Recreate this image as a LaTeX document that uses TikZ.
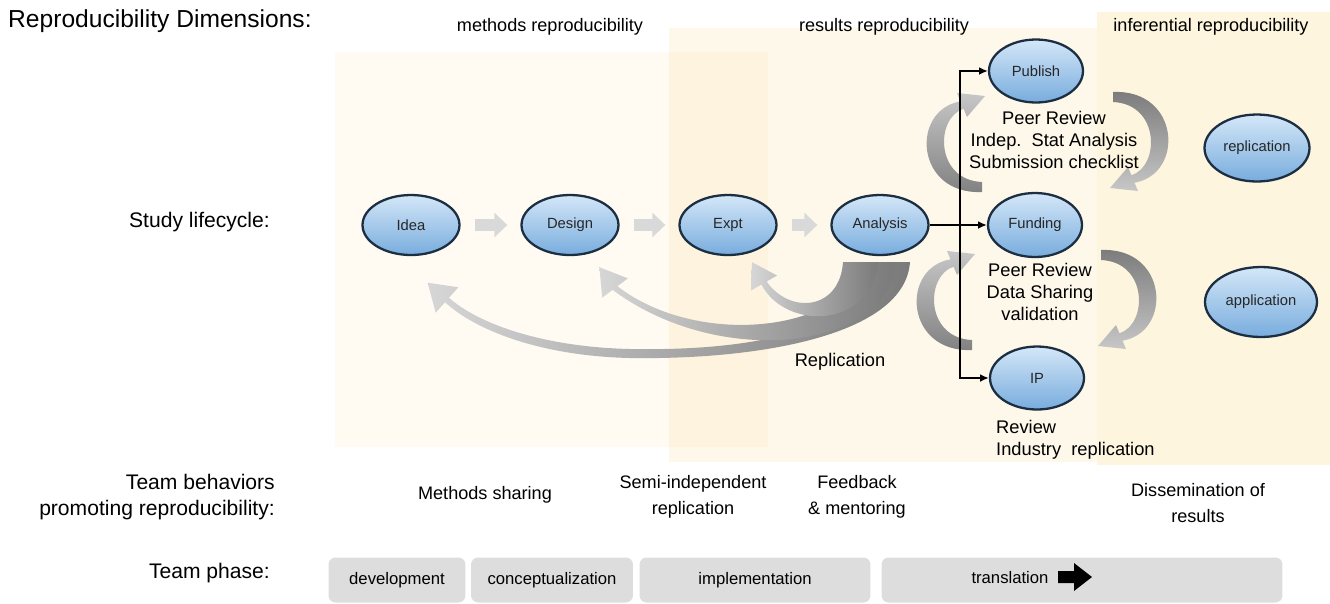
\documentclass[tikz,border=0pt]{standalone}
\usepackage{fontspec}
\setmainfont{Liberation Sans}
\usetikzlibrary{arrows.meta}
\usetikzlibrary{shapes.geometric}
\usetikzlibrary{calc}
\definecolor{ballhi}{HTML}{D4E7F8}
\definecolor{balllo}{HTML}{78ACDD}
\definecolor{rim}{HTML}{1C2E42}
\definecolor{creamA}{HTML}{FFFBF2}
\definecolor{creamB}{HTML}{FEF8EB}
\definecolor{creamAB}{HTML}{FDF3DE}
\definecolor{creamC}{HTML}{FDF5DE}
\definecolor{phasegray}{HTML}{DEDDDD}
\tikzset{big/.style={font=\fontsize{14}{16}\selectfont}}
\tikzset{lab/.style={font=\fontsize{12}{14.7}\selectfont, align=right}}
\tikzset{dim/.style={font=\fontsize{10.3}{12}\selectfont}}
\tikzset{beh/.style={font=\fontsize{10.3}{14.7}\selectfont, align=center}}
\tikzset{txt/.style={font=\fontsize{10.4}{12.3}\selectfont, align=center}}
\tikzset{stage/.style={ellipse, draw=rim, line width=1.3pt, top color=ballhi, bottom color=balllo,
  minimum width=1.94cm, minimum height=1.2cm, inner sep=0pt, text=black!85,
  font=\fontsize{8.4}{10}\selectfont}}
\tikzset{phase/.style={rounded corners=4pt, fill=phasegray, minimum height=0.9cm, inner sep=0pt,
  font=\fontsize{9.5}{11}\selectfont}}
\tikzset{flow/.style={draw=black!15, line width=6.8pt, -{Triangle[length=7.4pt,width=13.6pt]},
  shorten <=7.9pt, shorten >=7.4pt}}
\tikzset{branch/.style={draw=black, line width=1.1pt, -{Latex[length=5pt,width=4.5pt]}}}
\tikzset{swoosh/.style={left color=black!16, right color=black!52}}
\tikzset{turnup/.style={top color=black!22, bottom color=black!50}}
\tikzset{turndown/.style={top color=black!52, bottom color=black!22}}
% tapered turning arrow, #1 centre, #2 rotation, #3 shading
\newcommand{\turnarrow}[3]{\shade[#3, shift={#1}, rotate=#2] (7,50) .. controls (-60,53) and (-65,-32) .. (-14.5,-40.7)
  -- (-18,-49) -- (10,-46) -- (-8,-25) -- (-11.5,-33.3) .. controls (-40,-24) and (-40,38) .. (7,40) -- cycle;}

\begin{document}
\begin{tikzpicture}[x=0.02cm,y=-0.02cm]
  \useasboundingbox (0,0) rectangle (1330,603);
  % dimension bands
  \fill[creamA] (335,52) rectangle (768,447);
  \fill[creamB] (669,28) rectangle (1097,462);
  \fill[creamAB] (669,52) rectangle (768,447);
  \fill[creamC] (1097,12) rectangle (1330,465);

  \node[big, anchor=west] (title) at (2,21) {Reproducibility Dimensions:};
  \node[dim] (methods) at (550,27) {methods reproducibility};
  \node[dim] (results) at (884,27) {results reproducibility};
  \node[dim] (inferential) at (1211,27) {inferential reproducibility};

  % replication swooshes
  \shade[swoosh] (910,262) .. controls (905,335) and (760,360) .. (630,358)
    .. controls (540,356) and (475,330) .. (445,302.2) -- (435.7,312.7) -- (427.6,282.7)
    -- (458.3,287.3) -- (449,297.8) .. controls (480,325) and (545,347) .. (630,349)
    .. controls (740,351) and (860,335) .. (880,262) -- cycle;
  \shade[swoosh] (895,262) .. controls (890,350) and (720,370) .. (612.6,289.8)
    -- (602.2,297.6) -- (599.4,267.2) -- (627.8,278.4) -- (617.4,286.2)
    .. controls (700,350) and (850,330) .. (862,262) -- cycle;
  \shade[swoosh] (878,262) .. controls (870,330) and (785,330) .. (761.4,284.5)
    -- (751,290.5) -- (752,262.2) -- (777,275.5) -- (766.6,281.5)
    .. controls (790,315) and (840,310) .. (843,262) -- cycle;

  % review loops
  \turnarrow{(975,142)}{0}{turnup}
  \turnarrow{(1120,142)}{180}{turndown}
  \turnarrow{(965,300)}{0}{turnup}
  \turnarrow{(1108,300)}{180}{turndown}

  \node[lab, anchor=east] (lifecycle) at (276,222) {Study lifecycle:};
  \node[stage] (idea) at (411,225) {Idea};
  \node[stage] (design) at (570,225) {Design};
  \node[stage] (expt) at (728,225) {Expt};
  \node[stage] (analysis) at (880,225) {Analysis};
  \node[stage, minimum width=1.88cm, minimum height=1.26cm] (publish) at (1036,71) {Publish};
  \node[stage, minimum width=1.88cm, minimum height=1.28cm] (funding) at (1035,225) {Funding};
  \node[stage, minimum width=1.88cm, minimum height=1.26cm] (ip) at (1037,378) {IP};
  \node[stage, minimum width=2.1cm, minimum height=1.34cm] (replication) at (1257,148) {replication};
  \node[stage, minimum width=2.24cm, minimum height=1.4cm] (application) at (1261,302) {application};

  \draw[flow] (idea) -- (design);
  \draw[flow] (design) -- (expt);
  \draw[flow] (expt) -- (analysis);

  \coordinate (fork) at (960,225);
  \draw[branch] (analysis) -- (funding);
  \draw[branch] (fork) |- (publish);
  \draw[branch] (fork) |- (ip);

  \node[txt] (pubnote) at (1054,140) {Peer Review\\Indep.\ \ Stat Analysis\\Submission checklist};
  \node[txt] (fundnote) at (1040,292) {Peer Review\\Data Sharing\\validation};
  \node[txt, align=left, anchor=west] (ipnote) at (990,440) {Review\\Industry\ \ replication};
  \node[txt] (replnote) at (840,362) {Replication};

  % team rows
  \node[lab, anchor=east] (behaviors) at (281,497) {Team behaviors\\promoting reproducibility:};
  \node[beh] (sharing) at (485,495) {Methods sharing};
  \node[beh] (semi) at (693,497) {Semi-independent\\replication};
  \node[beh] (feedback) at (857,497) {Feedback\\\& mentoring};
  \node[beh] (dissem) at (1198,503) {Dissemination of\\results};

  \node[lab, anchor=east] (phaselab) at (276,573) {Team phase:};
  \node[phase, minimum width=2.74cm] (development) at (397,580) {development};
  \node[phase, minimum width=3.24cm] (concept) at (552,580) {conceptualization};
  \node[phase, minimum width=4.62cm] (implement) at (755,580) {implementation};
  \node[phase, minimum width=8.02cm] (translation) at (1082,580) {};
  \node[phase, fill=none] (translabel) at (1010,578) {translation};
  \fill (1058,571) -- (1074,571) -- (1074,563) -- (1092,577) -- (1074,591) -- (1074,583) -- (1058,583) -- cycle;
\end{tikzpicture}
\end{document}
